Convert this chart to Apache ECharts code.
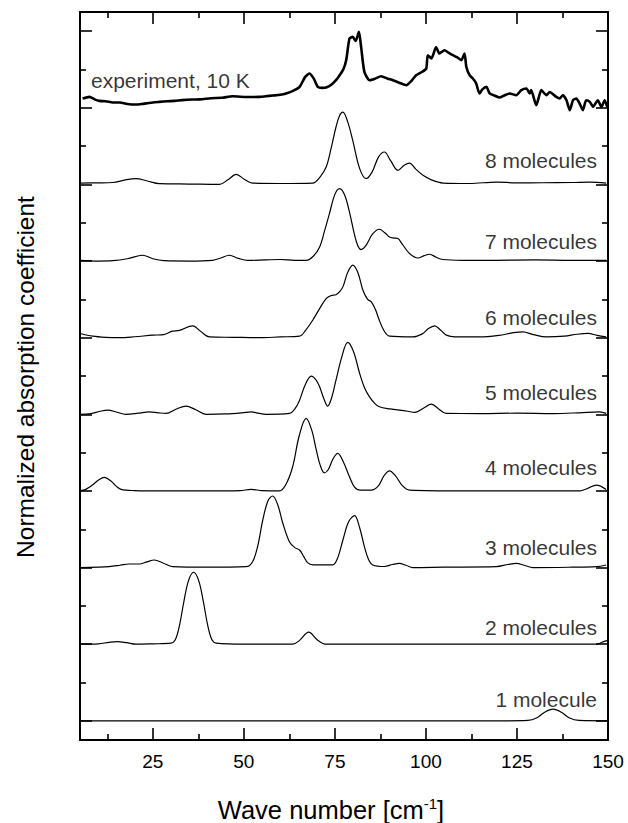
<!DOCTYPE html>
<html><head><meta charset="utf-8">
<script src="https://cdn.jsdelivr.net/npm/echarts@6/dist/echarts.min.js"></script>
<style>html,body{margin:0;padding:0;background:#fff}#c{width:628px;height:823px}</style>
</head><body><div id="c"></div>
<script>
// ---- axis ticks ----
const xTicks = [25, 50, 75, 100, 125, 150];
const xMinorTicks = [12.5, 37.5, 62.5, 87.5, 112.5, 137.5];
const yTicks = [0, 1, 2, 3, 4, 5, 6, 7, 8, 9];
const yMinorTicks = [0.5, 1.5, 2.5, 3.5, 4.5, 5.5, 6.5, 7.5, 8.5];

// ---- curve names, vertical offsets (stacking) and label heights above baseline ----
const curveNames = ['experiment, 10 K', '8 molecules', '7 molecules', '6 molecules', '5 molecules',
                    '4 molecules', '3 molecules', '2 molecules', '1 molecule'];
const curveOffsets = [8, 7, 6, 5, 4, 3, 2, 1, 0];
const labelHeights = [0.36, 0.31, 0.25, 0.26, 0.29, 0.30, 0.26, 0.22, 0.28];

// ---- spectra: [wave number, normalized absorption] ----
const experiment = [[5.7,0.121],[7.6,0.142],[9,0.11],[10.3,0.09],[12,0.085],[14,0.07],[16,0.068],[18,0.05],[20.4,0.043],[22,0.05],[23.5,0.06],[25,0.07],[26.8,0.077],[29,0.085],[31,0.09],[33,0.1],[35.9,0.108],[38,0.11],[41,0.125],[44,0.13],[46.9,0.151],[49,0.145],[52,0.14],[54.3,0.142],[56,0.15],[58,0.16],[60,0.17],[61.6,0.187],[63.5,0.22],[65.3,0.273],[66.8,0.4],[68.0,0.447],[69.2,0.38],[70.3,0.273],[71.5,0.26],[72.6,0.265],[74,0.3],[75.3,0.36],[76.3,0.425],[77.3,0.5],[78.1,0.62],[79.0,0.904],[79.9,0.925],[80.7,0.873],[81.6,0.99],[82.2,0.794],[83.1,0.468],[84.5,0.36],[86,0.38],[87.7,0.412],[89.5,0.38],[90.9,0.36],[93,0.32],[94.6,0.295],[96,0.35],[97.3,0.425],[99,0.47],[100.1,0.513],[100.5,0.686],[101.5,0.643],[102.8,0.794],[103.7,0.708],[105.1,0.751],[106.2,0.72],[107.4,0.686],[108.5,0.66],[109.7,0.621],[110.6,0.708],[111.1,0.533],[112.0,0.425],[112.9,0.382],[113.8,0.317],[114.7,0.187],[115.5,0.24],[116.6,0.273],[117.5,0.187],[118.8,0.16],[120.2,0.134],[121.5,0.16],[123.0,0.187],[124.8,0.164],[126.2,0.23],[127.6,0.252],[128.5,0.187],[128.9,0.23],[130.3,0.034],[131.7,0.23],[133.1,0.164],[134.0,0.207],[135.8,0.142],[136.7,0.121],[137.6,0.164],[138.6,0.099],[139.5,-0.031],[140.4,0.099],[141.3,0.121],[142.2,0.056],[143.1,-0.031],[144.0,0.099],[145.0,0.077],[145.9,0.012],[147.2,0.099],[148.2,0.012],[149.1,0.099],[149.8,0.012]];
const mol8 = [[5,0.018],[10,0.02],[14,0.025],[17.5,0.06],[20.4,0.076],[23.5,0.045],[26.8,0.01],[35,0.005],[43.3,0.0],[45.6,0.06],[47.9,0.13],[50.2,0.065],[52.4,0.018],[60,0.012],[68.9,0.018],[70.8,0.09],[72.6,0.227],[74,0.48],[75.3,0.749],[76.3,0.9],[77.2,0.944],[78.5,0.82],[79.9,0.575],[81.8,0.206],[83.6,0.076],[85.2,0.16],[87,0.36],[88.6,0.423],[90.3,0.31],[92.3,0.184],[94,0.25],[95.5,0.279],[97.2,0.2],[99.2,0.119],[101.5,0.06],[104.7,0.018],[112,0.012],[119.3,0.031],[125,0.02],[132,0.022],[140,0.025],[145,0.031],[149.5,0.018]];
const mol7 = [[5,0.01],[10,0.0],[14,0.005],[18,0.03],[22.2,0.076],[25,0.03],[28,0.005],[35,0.0],[41.4,0.01],[43.7,0.04],[46,0.076],[48.5,0.035],[51,0.008],[56,0.015],[60,0.02],[64,0.01],[67.1,0.01],[69,0.06],[70.8,0.184],[72.2,0.4],[73.5,0.62],[75,0.87],[76.3,0.946],[77.7,0.86],[79.1,0.62],[80.3,0.36],[81.3,0.2],[82.2,0.15],[83.5,0.2],[85.3,0.35],[87.2,0.415],[88.7,0.37],[90,0.314],[91.3,0.3],[92.3,0.293],[93.5,0.22],[95.5,0.098],[97.8,0.04],[99.5,0.07],[101,0.089],[102.8,0.05],[104.6,0.02],[110,0.01],[119.3,0.01],[130,0.015],[140,0.01],[149.5,0.01]];
const mol6 = [[5,0.055],[8.5,0.02],[12,0.005],[15.8,0.0],[20,0.012],[25,0.033],[28,0.04],[30.4,0.085],[32.3,0.095],[35.9,0.154],[38.2,0.08],[40.5,0.01],[47,0.005],[54.3,0.0],[60,0.01],[65.3,0.02],[67,0.1],[68.9,0.228],[70.8,0.38],[72.6,0.511],[74,0.55],[75.3,0.56],[76.3,0.6],[77.2,0.663],[78.5,0.85],[79.9,0.946],[81.3,0.85],[82.7,0.62],[84,0.5],[85,0.467],[86.1,0.37],[87.2,0.228],[88.5,0.09],[90,0.02],[96.4,0.01],[99,0.05],[100.7,0.12],[102.4,0.154],[104,0.1],[105.6,0.033],[108,0.01],[114.7,0.01],[120,0.03],[124,0.065],[126.6,0.076],[129.5,0.04],[133.1,0.01],[138,0.02],[141.5,0.045],[144.5,0.055],[147,0.03],[149.5,0.01]];
const mol5 = [[5,0.0],[8,0.01],[10.5,0.04],[12.6,0.055],[15,0.03],[17.6,0.0],[21,0.015],[24,0.033],[26.5,0.02],[28.6,0.012],[31.5,0.07],[34.1,0.107],[36.8,0.06],[39.6,0.0],[45,0.005],[49.5,0.02],[52,0.033],[54,0.015],[56.1,0.0],[62.5,0.012],[64,0.07],[65.3,0.185],[66.8,0.38],[68.5,0.498],[69.8,0.45],[70.8,0.359],[72,0.2],[73,0.107],[74,0.2],[75.3,0.446],[76.9,0.75],[78.5,0.938],[80.1,0.82],[81.8,0.533],[83.2,0.34],[84.5,0.228],[86,0.14],[87.2,0.098],[90,0.07],[92.7,0.055],[95,0.04],[96.9,0.025],[99.3,0.08],[101.5,0.133],[103.5,0.07],[105.6,0.012],[115,0.01],[125,0.015],[135,0.01],[142,0.02],[147.7,0.033],[149.5,0.012]];
const mol4 = [[5,0.0],[6.6,0.02],[8.5,0.08],[10,0.14],[11.7,0.177],[13.5,0.13],[15,0.06],[16.3,0.02],[20,0.005],[26.8,0.0],[40,0.0],[49,0.005],[52,0.02],[55,0.005],[59.8,0.0],[61.5,0.08],[63.4,0.316],[65.2,0.72],[67.1,0.947],[68.6,0.8],[69.9,0.533],[71,0.33],[72.1,0.237],[73.2,0.28],[74.5,0.42],[75.8,0.49],[77.3,0.38],[79,0.185],[80.4,0.05],[82,0.01],[85,0.01],[87,0.07],[88.5,0.2],[90,0.263],[91.6,0.2],[93.5,0.07],[95.5,0.01],[110,0.0],[120.2,0.0],[130,0.0],[142.2,0.0],[144.5,0.035],[146.8,0.077],[149.5,0.02]];
const mol3 = [[5,0.0],[10,0.005],[13,0.012],[16,0.03],[18.5,0.047],[21.3,0.047],[23.4,0.075],[25.4,0.099],[27.8,0.06],[30.4,0.012],[40,0.005],[50.6,0.012],[52.4,0.077],[53.8,0.28],[55.2,0.621],[56.6,0.87],[57.9,0.934],[59.3,0.82],[60.7,0.578],[62.5,0.338],[64,0.26],[65.3,0.23],[66.5,0.14],[67.5,0.064],[69,0.035],[70.8,0.034],[74.4,0.034],[75.8,0.13],[77.2,0.36],[78.8,0.6],[80.4,0.677],[81.8,0.52],[83.1,0.273],[84.3,0.1],[85.4,0.034],[88.6,0.014],[90.8,0.04],[92.7,0.056],[94.5,0.03],[96.4,0.0],[105,0.005],[119.3,0.012],[122.5,0.04],[124.8,0.056],[127,0.03],[129.4,0.0],[140,0.005],[146.8,0.012],[149.5,0.034]];
const mol2 = [[5,0.0],[10,0.005],[13,0.025],[15.3,0.034],[17.8,0.02],[20.4,0.0],[25,0.005],[30,0.013],[31.2,0.06],[32.3,0.24],[33.5,0.55],[34.8,0.83],[36.2,0.939],[37.6,0.83],[38.9,0.55],[40.1,0.24],[41.2,0.06],[42.4,0.013],[50,0.0],[60,0.0],[63.4,0.0],[65.3,0.05],[67.8,0.157],[70.2,0.056],[72.6,0.0],[100,0.0],[130,0.0],[146.8,0.0],[148.6,0.03],[150,0.05]];
const mol1 = [[5,0],[60,0],[120,0],[128,0.005],[130.5,0.04],[132.5,0.11],[134.9,0.153],[137.3,0.11],[139.3,0.04],[142,0.005],[150,0]];

const spectra = [experiment, mol8, mol7, mol6, mol5, mol4, mol3, mol2, mol1];

const FONT = 'Liberation Sans, Arial, Helvetica, sans-serif';
const X_MIN = 5, X_MAX = 150, Y_MIN = -0.25, Y_MAX = 9.25;

function xAxisCfg(position, ticks, len, main, labels) {
  return {
    type: 'value', min: X_MIN, max: X_MAX, position: position,
    axisLine: { show: main, onZero: false, lineStyle: { color: '#000', width: 2 } },
    axisTick: { show: true, inside: true, length: len, customValues: ticks, lineStyle: { color: '#000', width: 1.6 } },
    axisLabel: labels ? { show: true, customValues: ticks, margin: 12, fontSize: 19, color: '#000', fontFamily: FONT } : { show: false },
    splitLine: { show: false }
  };
}
function yAxisCfg(position, ticks, len, main) {
  return {
    type: 'value', min: Y_MIN, max: Y_MAX, position: position,
    axisLine: { show: main, onZero: false, lineStyle: { color: '#000', width: 2 } },
    axisTick: { show: true, inside: true, length: len, customValues: ticks, lineStyle: { color: '#000', width: 1.6 } },
    axisLabel: { show: false },
    splitLine: { show: false }
  };
}

const series = spectra.map((d, i) => ({
  type: 'line',
  name: curveNames[i],
  xAxisIndex: 0, yAxisIndex: 0,
  data: d.map(p => [p[0], p[1] + curveOffsets[i]]),
  showSymbol: false, symbol: 'none',
  smooth: i === 0 ? 0.2 : 0.35,
  lineStyle: { color: '#000', width: i === 0 ? 2.6 : 1.2, join: 'round' },
  silent: true, z: 3
}));

series.push({
  type: 'scatter', xAxisIndex: 0, yAxisIndex: 0, symbolSize: 0, silent: true,
  data: curveNames.map((n, i) => ({
    name: n,
    value: [i === 0 ? X_MIN : X_MAX, curveOffsets[i] + labelHeights[i]],
    label: { position: i === 0 ? 'right' : 'left' }
  })),
  label: { show: true, distance: 11, formatter: p => p.name, fontSize: 21, color: '#000', fontFamily: FONT },
  z: 4
});

const chart = echarts.init(document.getElementById('c'), null, { renderer: 'svg' });
chart.setOption({
  animation: false,
  backgroundColor: '#fff',
  grid: { left: 80, right: 20, top: 12, bottom: 83, containLabel: false },
  xAxis: [
    xAxisCfg('bottom', xTicks, 12, true, true),
    xAxisCfg('bottom', xMinorTicks, 6, false, false),
    xAxisCfg('top', xTicks, 12, true, false),
    xAxisCfg('top', xMinorTicks, 6, false, false)
  ],
  yAxis: [
    yAxisCfg('left', yTicks, 12, true),
    yAxisCfg('left', yMinorTicks, 6, false),
    yAxisCfg('right', yTicks, 12, true),
    yAxisCfg('right', yMinorTicks, 6, false)
  ],
  graphic: [
    { type: 'text', x: 331, y: 810, silent: true,
      style: { text: 'Wave number [cm{sup|-1}]', fontSize: 25.5, fontFamily: FONT, fill: '#000',
               align: 'center', verticalAlign: 'middle',
               rich: { sup: { fontSize: 15, fontFamily: FONT, fill: '#000', verticalAlign: 'top', lineHeight: 29 } } } },
    { type: 'text', x: 25, y: 377, rotation: Math.PI / 2, silent: true,
      style: { text: 'Normalized absorption coefficient', fontSize: 24.5, fontFamily: FONT, fill: '#000',
               align: 'center', verticalAlign: 'middle' } }
  ],
  series: series
});
</script></body></html>
